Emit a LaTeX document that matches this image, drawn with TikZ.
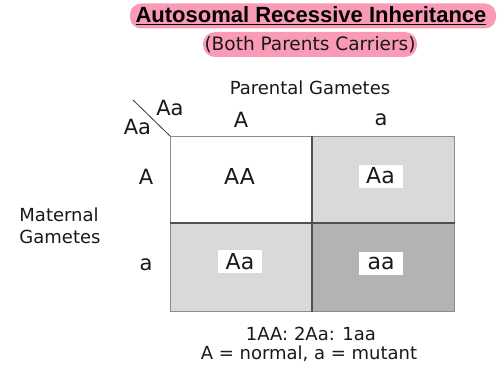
\documentclass[tikz,border=0pt]{standalone}
\usepackage{fontspec}
\setmainfont{DejaVu Sans}
\newfontfamily\titlefont{Liberation Sans}
\definecolor{pinkbg}{HTML}{F99BB7}
\definecolor{lightcell}{HTML}{D9D9D9}
\definecolor{darkcell}{HTML}{B3B3B3}
\definecolor{outline}{HTML}{8C8C8C}
\definecolor{innerline}{HTML}{505050}
\begin{document}
\begin{tikzpicture}[x=1pt,y=-1pt,
  lbl/.style={inner sep=0pt, font=\fontsize{18}{21}\selectfont, text=black!90},
  big/.style={inner sep=0pt, font=\fontsize{21}{24}\selectfont, text=black!90},
  cell/.style={draw=outline, line width=1pt, inner sep=0pt, anchor=north west},
  celltext/.style={inner sep=0pt, font=\fontsize{22}{25}\selectfont, text=black!90},
  whitetag/.style={fill=white, inner sep=0pt, minimum height=23pt, minimum width=44pt},
  pinkbox/.style={fill=pinkbg, rounded corners=11pt, inner sep=0pt}]
\useasboundingbox (0,0) rectangle (504,369);
% title
\node[pinkbox, minimum width=366pt, minimum height=25pt] (titlebox) at (313,16) {};
\node[inner sep=0pt, font=\titlefont\bfseries\fontsize{22}{25}\selectfont] (title) at (311,16) {\underline{Autosomal Recessive Inheritance}};
\node[pinkbox, minimum width=214pt, minimum height=25pt, rounded corners=12pt] (subbox) at (310,44.5) {};
\node[lbl, font=\fontsize{18.5}{21}\selectfont] (sub) at (310,44.5) {(Both Parents Carriers)};
% headers
\node[lbl] (parental) at (310,88) {Parental Gametes};
\coordinate (diagA) at (133,100);
\coordinate (diagB) at (170,136);
\draw[line width=0.8pt, black!80] (diagA) -- (diagB);
\node[big] (aatop) at (170,108) {Aa};
\node[big] (aaleft) at (137.5,126.5) {Aa};
\node[big] (colA) at (241,119.5) {A};
\node[big] (cola) at (381,120) {a};
\node[big] (rowA) at (146,176.5) {A};
\node[big] (rowa) at (146,265) {a};
\node[lbl, align=left] (maternal) at (60,226) {Maternal\\[1pt]Gametes};
% cells
\node[cell, fill=white, minimum width=141pt, minimum height=87pt] (c11) at (170,136) {};
\node[cell, fill=lightcell, minimum width=143pt, minimum height=87pt] (c12) at (311,136) {};
\node[cell, fill=lightcell, minimum width=141pt, minimum height=88pt] (c21) at (170,223) {};
\node[cell, fill=darkcell, minimum width=143pt, minimum height=88pt] (c22) at (311,223) {};
\draw[innerline, line width=1.3pt] (c11.north east) -- (c21.south east);
\draw[innerline, line width=1.3pt] (c21.north west) -- (c22.north east);
% cell labels
\node[celltext] (gAA) at (239.5,176.5) {AA};
\node[whitetag] (tag1) at (380.5,176) {};
\node[celltext] (gAa1) at (tag1.center) {Aa};
\node[whitetag] (tag2) at (240,261.5) {};
\node[celltext] (gAa2) at (tag2.center) {Aa};
\node[whitetag] (tag3) at (381,263) {};
\node[celltext] (gaa) at (tag3.center) {aa};
% footer
\node[lbl] (ratio) at (311,333.5) {1AA: 2Aa: 1aa};
\node[lbl] (legend) at (309,354) {A = normal, a = mutant};
\end{tikzpicture}
\end{document}
